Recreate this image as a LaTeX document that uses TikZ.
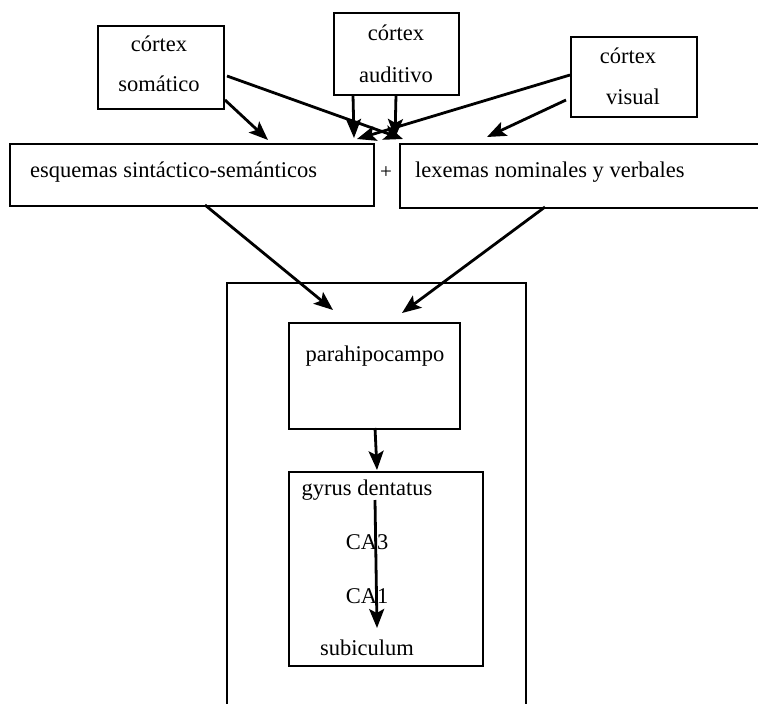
\documentclass[tikz,border=0pt]{standalone}
\usepackage{fontspec}
\setmainfont{Liberation Serif}
\usetikzlibrary{arrows.meta}
\begin{document}
\begin{tikzpicture}[x=1pt,y=-1pt,
  box/.style={draw, line width=2.4pt, inner sep=0pt, anchor=north west},
  lbl/.style={font=\fontsize{22.5}{26}\selectfont, inner sep=0pt},
  arr/.style={line width=2.8pt, -{Stealth[length=19pt,width=15pt,inset=4pt]}}]
\useasboundingbox (0,0) rectangle (758,704);

% cortical areas
\node[box, minimum width=126pt, minimum height=83pt] (som) at (97,25) {};
\node[box, minimum width=125pt, minimum height=82pt] (aud) at (333,12) {};
\node[box, minimum width=126pt, minimum height=80pt] (vis) at (570,36) {};
\node[lbl] (somA) at (159,44) {córtex};
\node[lbl] (somB) at (159,84) {somático};
\node[lbl] (audA) at (396,33) {córtex};
\node[lbl] (audB) at (396,75) {auditivo};
\node[lbl] (visA) at (628,56) {córtex};
\node[lbl] (visB) at (633,97) {visual};

% language level
\node[box, minimum width=364pt, minimum height=62pt] (esq) at (9,143) {};
\node[box, minimum width=380pt, minimum height=64pt] (lex) at (399,143) {};
\node[lbl, anchor=west] (esqT) at (30,172) {esquemas sintáctico-semánticos};
\node[lbl, anchor=west] (lexT) at (415,172) {lexemas nominales y verbales};
\node[font=\fontsize{21}{24}\selectfont, inner sep=0pt] (plus) at (386,173) {+};

% hippocampal formation
\node[box, minimum width=299pt, minimum height=440pt] (hip) at (226,282) {};
\node[box, minimum width=171pt, minimum height=106pt] (para) at (288,322) {};
\node[lbl] (paraT) at (375,356) {parahipocampo};
\node[box, minimum width=194pt, minimum height=194pt] (gyr) at (288,471) {};
\node[lbl] (gd) at (367,490) {gyrus dentatus};
\node[lbl] (ca3) at (367,542) {CA3};
\node[lbl] (ca1) at (367,596) {CA1};
\node[lbl] (sub) at (367,648) {subiculum};

% arrow end points
\coordinate (s1) at (225,100);  \coordinate (e1) at (268,140);
\coordinate (s2) at (227,76);   \coordinate (e2) at (403,139);
\coordinate (s3) at (353,95);   \coordinate (e3) at (354,138);
\coordinate (s4) at (396,95);   \coordinate (e4) at (395,138);
\coordinate (s5) at (570,75);   \coordinate (e5) at (357,139);
\coordinate (s6) at (566,100);  \coordinate (e6) at (487,137);
\coordinate (s7) at (205,205);  \coordinate (e7) at (333,310);
\coordinate (s8) at (545,207);  \coordinate (e8) at (402,313);
\coordinate (s9) at (375,428);  \coordinate (e9) at (377,470);
\coordinate (s10) at (375,500); \coordinate (e10) at (377,628);

\draw[arr] (s1) -- (e1);
\draw[arr] (s2) -- (e2);
\draw[arr] (s3) -- (e3);
\draw[arr] (s4) -- (e4);
\draw[arr] (s5) -- (e5);
\draw[arr] (s6) -- (e6);
\draw[arr] (s7) -- (e7);
\draw[arr] (s8) -- (e8);
\draw[arr] (s9) -- (e9);
\draw[arr] (s10) -- (e10);
\end{tikzpicture}
\end{document}
